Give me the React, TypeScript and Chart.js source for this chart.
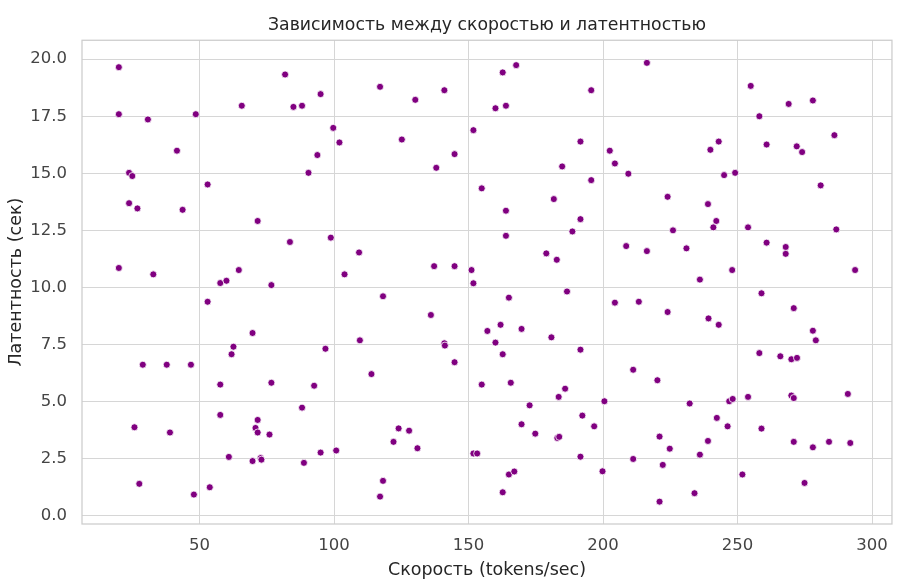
import React, { useEffect, useRef } from "react";
import { Chart, registerables } from "chart.js";

Chart.register(...registerables);

const TITLE = "Зависимость между скоростью и латентностью";
const X_LABEL = "Скорость (tokens/sec)";
const Y_LABEL = "Латентность (сек)";

const speed: number[] = [
  20.0, 81.8, 95.0, 65.7, 84.9, 88.1, 20.0, 30.8, 48.6, 99.7, 102.0, 41.6, 93.8, 23.8, 25.0, 90.5, 53.0, 23.8, 26.9, 43.7,
  71.6, 83.6, 98.8, 109.3, 20.0, 32.8, 64.6, 103.9,
  57.7, 60.0, 76.7, 53.0, 69.7, 62.6, 61.9, 96.8, 109.6, 28.9, 37.8, 46.8, 57.7, 76.7, 92.6, 88.1, 57.7, 71.6, 70.8, 71.6,
  76.0, 25.8, 39.0, 60.9, 69.7, 72.7, 73.0, 88.8, 95.0, 100.8, 27.6, 47.9, 53.8,
  117.1, 130.2, 141.0, 162.7, 167.7, 160.0, 163.9, 195.6, 151.8, 125.2, 144.8, 138.0, 191.6, 202.5, 204.4, 184.8, 195.6,
  209.4, 154.9, 181.7, 163.9, 191.6, 188.6, 163.9, 178.9, 182.8, 208.6, 137.2, 144.8, 151.1, 151.8,
  118.2, 136.0, 141.0, 141.2, 144.8, 113.9, 165.0, 186.6, 204.4, 157.0, 161.9, 169.7, 180.8, 160.0, 162.7, 191.6, 154.9,
  165.7, 185.9, 183.5, 172.7, 200.5, 192.3, 196.7, 169.7, 174.8, 183.0, 183.7, 124.0, 127.9, 122.1, 131.0, 151.8, 153.2,
  191.6, 165.0, 167.0, 162.7, 199.8, 118.2, 117.1,
  216.3, 254.9, 269.0, 278.0, 258.1, 286.0, 239.9, 243.0, 260.8, 272.0, 274.0, 245.0, 249.1, 280.9, 224.0, 239.0, 242.1,
  241.0, 253.9, 226.0, 286.7, 216.3, 231.0, 260.8, 267.9, 267.9, 248.0, 236.0, 293.7,
  258.9, 270.9, 278.0, 279.1, 213.3, 224.0, 239.2, 243.0, 258.1, 265.9, 270.0, 272.1, 211.2, 220.2, 232.2, 246.9, 248.2,
  253.9, 270.0, 270.9, 291.0, 242.3, 246.3, 258.9, 221.0, 224.8, 239.0, 236.0, 270.9, 278.0, 284.0, 291.9, 211.2, 222.2,
  251.8, 274.9, 234.0, 221.0,
];

const latency: number[] = [
  19.65, 19.33, 18.47, 17.96, 17.91, 17.96, 17.59, 17.36, 17.59, 16.99, 16.35, 15.99, 15.8, 15.02, 14.88, 15.02, 14.51,
  13.69, 13.46, 13.4, 12.91, 11.99, 12.18, 11.53, 10.85, 10.57, 10.76, 10.57,
  10.19, 10.29, 10.1, 9.37, 8.0, 7.4, 7.07, 7.31, 7.68, 6.61, 6.61, 6.61, 5.74, 5.82, 5.69, 4.73, 4.41, 4.19, 3.84, 3.64,
  3.55, 3.87, 3.64, 2.57, 2.39, 2.52, 2.45, 2.31, 2.76, 2.85, 1.39, 0.92, 1.24,
  18.79, 18.22, 18.64, 19.42, 19.74, 17.85, 17.96, 18.64, 16.89, 16.48, 15.84, 15.24, 16.39, 15.99, 15.43, 15.3, 14.7,
  14.98, 14.34, 13.87, 13.36, 12.99, 12.45, 12.26, 11.49, 11.21, 11.81, 10.93, 10.93, 10.76, 10.18,
  9.61, 8.79, 7.55, 7.45, 6.72, 6.2, 9.55, 9.82, 9.33, 8.09, 8.36, 8.18, 7.81, 7.58, 7.07, 7.27, 5.74, 5.82, 5.56, 5.2,
  4.83, 5.01, 4.38, 3.91, 4.0, 3.59, 3.4, 3.45, 3.82, 3.72, 3.23, 2.95, 2.72, 2.72, 2.58, 1.8, 1.93, 1.02, 1.94, 1.52, 0.83,
  19.84, 18.83, 18.04, 18.19, 17.5, 16.67, 16.03, 16.39, 16.26, 16.18, 15.93, 14.92, 15.02, 14.47, 13.97, 13.65, 12.91,
  12.63, 12.63, 12.5, 12.54, 11.59, 11.71, 11.96, 11.77, 11.47, 10.76, 10.34, 10.76,
  9.74, 9.09, 8.1, 7.68, 9.37, 8.92, 8.64, 8.36, 7.12, 6.98, 6.85, 6.91, 6.39, 5.93, 4.91, 5.01, 5.11, 5.2, 5.26, 5.15,
  5.33, 4.28, 3.91, 3.81, 3.46, 2.93, 3.27, 2.67, 3.23, 2.99, 3.23, 3.18, 2.48, 2.22, 1.8, 1.43, 0.98, 0.61,
];

const xTicks = [50, 100, 150, 200, 250, 300];
const yTicks = [0, 2.5, 5, 7.5, 10, 12.5, 15, 17.5, 20];

const FONT = "'DejaVu Sans', sans-serif";

const framePlugin = {
  id: "frame",
  afterDatasetsDraw(chart: any) {
    const { ctx, chartArea } = chart;
    ctx.save();
    ctx.strokeStyle = "#cccccc";
    ctx.lineWidth = 1.25;
    ctx.strokeRect(chartArea.left, chartArea.top, chartArea.right - chartArea.left, chartArea.bottom - chartArea.top);
    ctx.restore();
  },
};

export default function App() {
  const canvasRef = useRef<HTMLCanvasElement | null>(null);

  useEffect(() => {
    if (!canvasRef.current) return;
    const points = speed.map((x, i) => ({ x, y: latency[i] }));
    const chart = new Chart(canvasRef.current, {
      type: "scatter",
      data: {
        datasets: [
          {
            data: points,
            backgroundColor: "#800080",
            borderColor: "#ffffff",
            borderWidth: 0.8,
            pointRadius: 3.5,
            pointHoverRadius: 3.5,
          },
        ],
      },
      options: {
        animation: false,
        responsive: false,
        maintainAspectRatio: false,
        layout: { padding: { left: 0, right: 5, top: 0, bottom: 0 } },
        plugins: {
          legend: { display: false },
          tooltip: { enabled: false },
          title: {
            display: true,
            text: TITLE,
            fullSize: false,
            color: "#262626",
            font: { family: FONT, size: 17.3, weight: "normal" },
            padding: { top: 15.3, bottom: 4.2 },
          },
        },
        scales: {
          x: {
            type: "linear",
            min: 6.3,
            max: 307.4,
            afterBuildTicks: (s: any) => {
              s.ticks = xTicks.map((v) => ({ value: v }));
            },
            afterFit: (s: any) => {
              s.height = 64;
            },
            grid: { color: "#d6d6d6", lineWidth: 1, drawTicks: false },
            border: { display: false },
            ticks: {
              color: "#444444",
              font: { family: FONT, size: 16.5 },
              padding: 12,
              maxRotation: 0,
              callback: (v: any) => String(v),
            },
            title: {
              display: true,
              text: X_LABEL,
              color: "#262626",
              font: { family: FONT, size: 17.5 },
              padding: { top: 0, bottom: 7.5 },
            },
          },
          y: {
            type: "linear",
            min: -0.37,
            max: 20.83,
            afterBuildTicks: (s: any) => {
              s.ticks = yTicks.map((v) => ({ value: v }));
            },
            afterFit: (s: any) => {
              s.width = 82;
            },
            grid: { color: "#d6d6d6", lineWidth: 1, drawTicks: false },
            border: { display: false },
            ticks: {
              color: "#444444",
              font: { family: FONT, size: 16.5 },
              padding: 15,
              callback: (v: any) => Number(v).toFixed(1),
            },
            title: {
              display: true,
              text: Y_LABEL,
              color: "#262626",
              font: { family: FONT, size: 17.5 },
              padding: { top: 5.5, bottom: 0 },
            },
          },
        },
      },
      plugins: [framePlugin],
    });
    return () => chart.destroy();
  }, []);

  return (
    <div style={{ position: "fixed", left: 0, top: 0, width: 900, height: 588, background: "#ffffff" }}>
      <canvas ref={canvasRef} width={900} height={588} style={{ width: 900, height: 588, display: "block" }} />
    </div>
  );
}
